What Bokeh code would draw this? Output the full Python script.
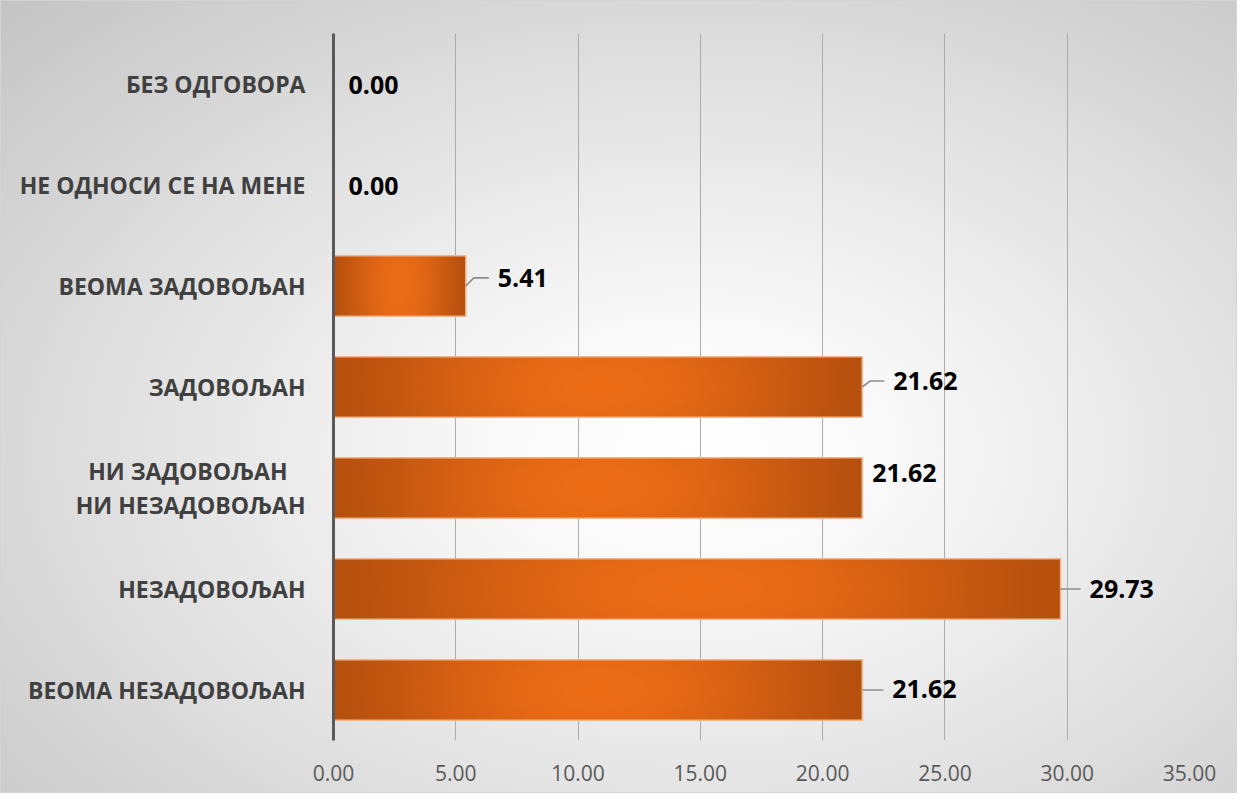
import math
import numpy as np
from bokeh.plotting import figure
from bokeh.models import FixedTicker, ColumnDataSource, Range1d
from bokeh.embed import file_html
from bokeh.resources import INLINE
from bokeh.core.properties import value

# ---------------- data ----------------
categories = [
    "ВЕОМА НЕЗАДОВОЉАН",
    "НЕЗАДОВОЉАН",
    "НИ ЗАДОВОЉАН\u00a0\u00a0\u00a0\nНИ НЕЗАДОВОЉАН",
    "ЗАДОВОЉАН",
    "ВЕОМА ЗАДОВОЉАН",
    "НЕ ОДНОСИ СЕ НА МЕНЕ",
    "БЕЗ ОДГОВОРА",
]
values = [21.62, 29.73, 21.62, 21.62, 5.41, 0.00, 0.00]
x_ticks = [0, 5, 10, 15, 20, 25, 30, 35]
x_tick_labels = ["0.00", "5.00", "10.00", "15.00", "20.00", "25.00", "30.00", "35.00"]

# ---------------- layout constants ----------------
label_dx_px = [30, 29, 10, 31, 32, 15, 15]               # label gap from bar end (px)
label_dy = [0.01, 0.0, 0.15, 0.06, 0.08, -0.01, -0.01]   # label shift (category units)
has_leader = [True, True, False, True, True, False, False]
BAR_H = 0.6

W, H = 1237, 793
p = figure(width=W, height=H, output_backend="svg", toolbar_location=None,
           x_range=Range1d(0, 35), y_range=Range1d(-0.5, 6.5),
           min_border_left=333, min_border_right=W - 1189, min_border_top=33,
           min_border_bottom=H - 740)
p.background_fill_color = None
p.border_fill_color = None
p.outline_line_color = None
p.styles = {
    "background": "radial-gradient(ellipse farthest-corner at 56% 57%, #ffffff 0%, #f9f9f9 20%, #e3e3e3 55%, #c4c4c4 100%)",
    "outline": "1px solid #d4d4d4",
    "outline-offset": "-1px",
}

# bars: gradient images stretched over each bar's extent
dark = np.array([182, 80, 14], dtype=float)
bright = np.array([236, 108, 22], dtype=float)
NW, NH = 300, 24
t = (np.arange(NW) + 0.5) / NW
s = (np.arange(NH) + 0.5) / NH
fh = np.sin(np.pi * t) ** 1.3
fv = 1.0 - 0.10 * (2 * s - 1) ** 2
f = fv[:, None] * fh[None, :]
rgb = dark[None, None, :] + (bright - dark)[None, None, :] * f[:, :, None]
img = np.empty((NH, NW), dtype=np.uint32)
view = img.view(dtype=np.uint8).reshape((NH, NW, 4))
view[:, :, 0] = rgb[:, :, 0].round().astype(np.uint8)
view[:, :, 1] = rgb[:, :, 1].round().astype(np.uint8)
view[:, :, 2] = rgb[:, :, 2].round().astype(np.uint8)
view[:, :, 3] = 255

imgs, ix, iy, idw, idh = [], [], [], [], []
for i, v in enumerate(values):
    if v <= 0:
        continue
    imgs.append(img)
    ix.append(0)
    iy.append(i - BAR_H / 2)
    idw.append(v)
    idh.append(BAR_H)
p.image_rgba(image=imgs, x=ix, y=iy, dw=idw, dh=idh)
p.hbar(y=list(range(len(values))), left=0, right=values, height=BAR_H,
       fill_color=None, line_color="#f3b489", line_width=1.6)

# leader lines
px_x = (1189 - 333) / 35.0
lx, ly = [], []
for i, v in enumerate(values):
    if not has_leader[i]:
        continue
    ty = i + label_dy[i]
    gap = label_dx_px[i] - 9
    if abs(label_dy[i]) < 0.02:
        lx.append([v, v + gap / px_x]); ly.append([i, i])
    else:
        lx.append([v, v + 8 / px_x, v + gap / px_x])
        ly.append([i, ty, ty])
p.multi_line(xs=lx, ys=ly, line_color="#8c8c8c", line_width=1.6)

# value labels
src = ColumnDataSource(dict(
    x=values,
    y=[i + d for i, d in enumerate(label_dy)],
    txt=["%.2f" % v for v in values],
    dx=label_dx_px,
))
p.text(x="x", y="y", text="txt", x_offset="dx", source=src,
       text_font=value("Open Sans"), text_font_style="bold", text_font_size="25px",
       text_color="#000000", text_align="left", text_baseline="middle")

# axes
p.xgrid.ticker = FixedTicker(ticks=x_ticks)
p.xgrid.grid_line_color = "#ababab"
p.xgrid.grid_line_width = 1
p.ygrid.grid_line_color = None

xa = p.xaxis[0]
xa.ticker = FixedTicker(ticks=x_ticks)
xa.major_label_overrides = {t_: l for t_, l in zip(x_ticks, x_tick_labels)}
xa.axis_line_color = None
xa.major_tick_line_color = None
xa.minor_tick_line_color = None
xa.major_label_standoff = 18
xa.major_label_text_font = "Open Sans"
xa.major_label_text_font_size = "21px"
xa.major_label_text_color = "#595959"

ya = p.yaxis[0]
ya.ticker = FixedTicker(ticks=list(range(len(categories))))
ya.major_label_overrides = {i: c for i, c in enumerate(categories)}
ya.axis_line_color = "#595959"
ya.axis_line_width = 3
ya.major_tick_line_color = None
ya.minor_tick_line_color = None
ya.major_label_standoff = 22
ya.major_label_text_font = "Open Sans"
ya.major_label_text_font_style = "bold"
ya.major_label_text_font_size = "23px"
ya.major_label_text_line_height = 1.05
ya.major_label_text_color = "#404040"

open("out.html", "w").write(file_html(p, INLINE))
